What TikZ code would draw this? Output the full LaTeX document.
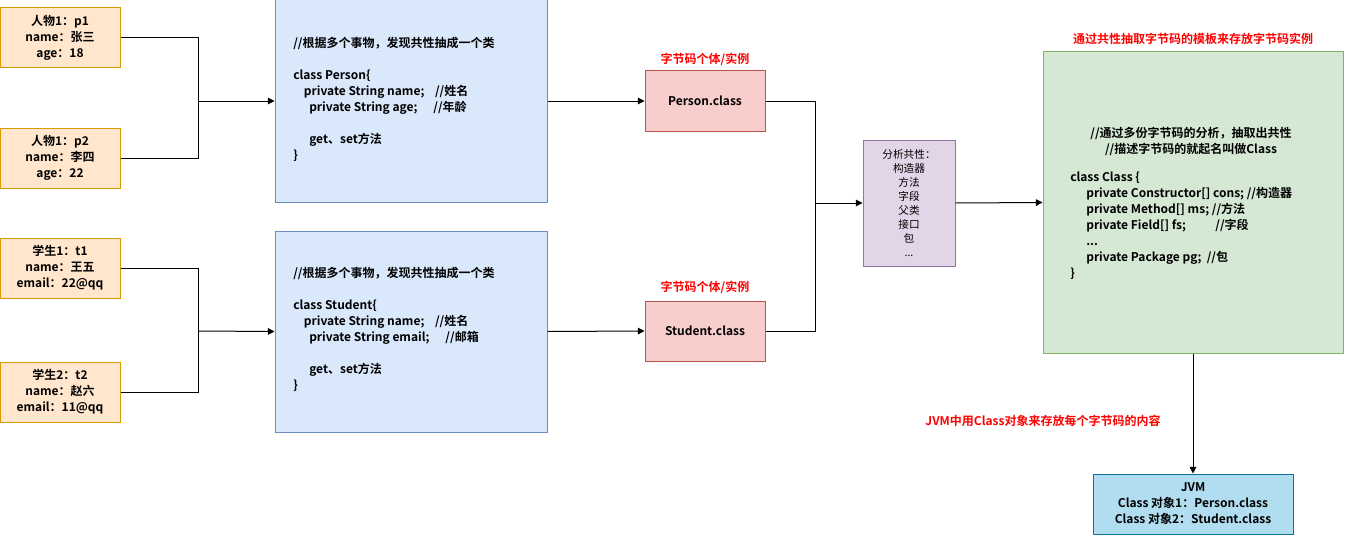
\documentclass[tikz,border=0pt]{standalone}
\usepackage{fontspec}
\setmainfont{Noto Sans CJK SC}[BoldFont={* Bold}]
\usetikzlibrary{arrows.meta}
\begin{document}
\begin{tikzpicture}[x=0.75pt,y=-0.75pt,font=\bfseries\fontsize{9}{12}\selectfont,
 bx/.style={draw,line width=0.75pt,inner sep=0pt},
 orange/.style={bx,fill={rgb,255:red,255;green,230;blue,204},draw={rgb,255:red,215;green,155;blue,0}},
 blue/.style={bx,fill={rgb,255:red,218;green,232;blue,252},draw={rgb,255:red,108;green,142;blue,191}},
 pink/.style={bx,fill={rgb,255:red,248;green,206;blue,204},draw={rgb,255:red,184;green,84;blue,80}},
 purp/.style={bx,fill={rgb,255:red,225;green,213;blue,231},draw={rgb,255:red,150;green,115;blue,166}},
 green/.style={bx,fill={rgb,255:red,213;green,232;blue,212},draw={rgb,255:red,130;green,179;blue,102}},
 cyan/.style={bx,fill={rgb,255:red,177;green,221;blue,240},draw={rgb,255:red,16;green,115;blue,158}},
 redt/.style={text=red},
 ln/.style={line width=0.75pt},
 ar/.style={ln,-{Triangle[length=5pt,width=5pt]}}]
\useasboundingbox (0,0) rectangle (1352,535);
\tikzset{box/.style args={#1,#2,#3,#4}{minimum width=(#3-#1)*0.75pt,minimum height=(#4-#2)*0.75pt}}
\node[orange,minimum width=90pt,minimum height=45pt,align=center] (p1) at (60,38) {人物1：p1\\name：张三\\age：18};
\node[orange,minimum width=90pt,minimum height=45pt,align=center] (p2) at (60,158) {人物1：p2\\name：李四\\age：22};
\node[orange,minimum width=90pt,minimum height=45pt,align=center] (t1) at (60,268) {学生1：t1\\name：王五\\email：22@qq};
\node[orange,minimum width=90pt,minimum height=45pt,align=center] (t2) at (60,392) {学生2：t2\\name：赵六\\email：11@qq};
\node[blue,minimum width=204pt,minimum height=151.5pt] (P) at (411,101) {};
\node[anchor=north west,align=left,inner sep=0pt] (Pt) at (293,37) {//根据多个事物，发现共性抽成一个类\\[12pt]class Person\{\\\hspace{8pt}private String name;\hspace{8pt}//姓名\\\hspace{12pt}private String age;\hspace{12pt}//年龄\\[12pt]\hspace{12pt}get、set方法\\\}};
\node[blue,minimum width=204pt,minimum height=150.75pt] (S) at (411,331.5) {};
\node[anchor=north west,align=left,inner sep=0pt] (St) at (293,267) {//根据多个事物，发现共性抽成一个类\\[12pt]class Student\{\\\hspace{8pt}private String name;\hspace{8pt}//姓名\\\hspace{12pt}private String email;\hspace{12pt}//邮箱\\[12pt]\hspace{12pt}get、set方法\\\}};
\node[pink,minimum width=90pt,minimum height=45pt] (pc) at (705,101) {Person.class};
\node[redt] (pcl) at (705,59) {字节码个体/实例};
\node[pink,minimum width=90pt,minimum height=45pt] (sc) at (705,331) {Student.class};
\node[redt] (scl) at (705,287) {字节码个体/实例};
\node[purp,minimum width=69pt,minimum height=94.5pt,font=\fontsize{8}{10.5}\selectfont,align=center] (an) at (909,203) {分析共性：\\构造器\\方法\\字段\\父类\\接口\\包\\...};
\node[green,minimum width=225pt,minimum height=225.75pt] (C) at (1193,202.5) {};
\node[align=center,inner sep=0pt] (Ch) at (1191,141) {//通过多份字节码的分析，抽取出共性\\//描述字节码的就起名叫做Class};
\node[anchor=north west,align=left,inner sep=0pt] (Ct) at (1070,172) {class Class \{\\\hspace{12pt}private Constructor[] cons; //构造器\\\hspace{12pt}private Method[] ms; //方法\\\hspace{12pt}private Field[] fs;\hspace{22pt}//字段\\\hspace{12pt}...\\\hspace{12pt}private Package pg;\hspace{4pt}//包\\\}};
\node[redt] (Cl) at (1193,39) {通过共性抽取字节码的模板来存放字节码实例};
\node[cyan,minimum width=150pt,minimum height=45pt,align=center] (J) at (1193,504) {JVM\\Class 对象1：Person.class\\Class 对象2：Student.class};
\node[redt] (Jl) at (1043,421) {JVM中用Class对象来存放每个字节码的内容};
\coordinate (j1) at (198,101);
\coordinate (j2) at (198,331);
\coordinate (j3) at (815,203);
\draw[ln] (p1.east) -| (j1); \draw[ln] (p2.east) -| (j1);
\draw[ar] (j1) -- (P.west);
\draw[ln] (t1.east) -| (j2); \draw[ln] (t2.east) -| (j2);
\draw[ar] (j2) -- (S.west);
\draw[ar] (P.east) -- (pc.west);
\draw[ar] (S.east) -- (sc.west);
\draw[ln] (pc.east) -| (j3); \draw[ln] (sc.east) -| (j3);
\draw[ar] (j3) -- (an.west);
\draw[ar] (an.east) -- (C.west);
\draw[ar] (C.south) -- (J.north);
\end{tikzpicture}
\end{document}
